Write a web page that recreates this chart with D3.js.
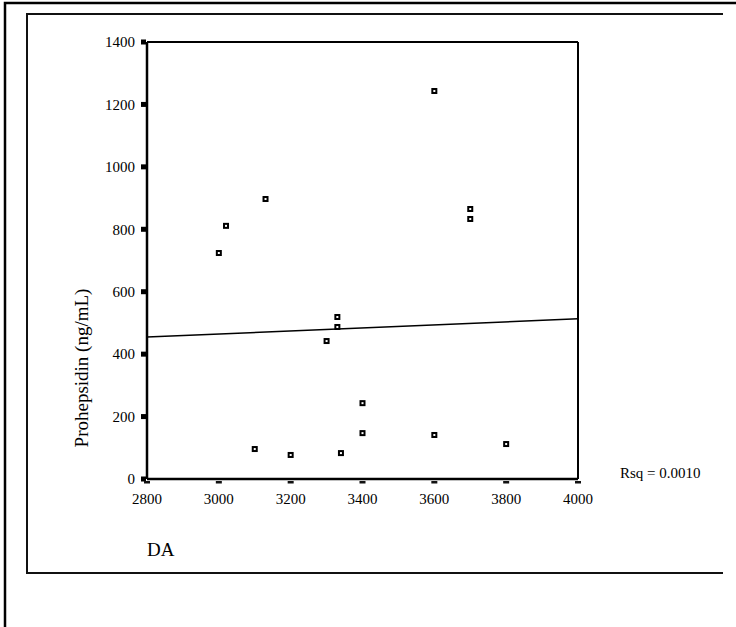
<!DOCTYPE html>
<html lang="en">
    <head>
        <meta charset="UTF-8" />
        <title>Prohepsidin vs DA</title>
        <style>
            body {
                margin: 0;
                background: #fff;
            }
            svg text {
                font-family: 'Liberation Serif', 'Times New Roman', serif;
                fill: #000;
            }
        </style>
    </head>
    <body>
        <svg width="736" height="627"></svg>
        <script src="https://d3js.org/d3.v7.min.js"></script>
        <script>
            // values
            const daValues = [3000, 3020, 3100, 3130, 3200, 3300, 3330, 3330, 3340, 3400, 3400, 3600, 3600, 3700, 3700, 3800];
            const prohepsidin = [724, 811, 96, 897, 77, 442, 519, 487, 83, 243, 147, 1243, 141, 865, 833, 112];
            const xTicks = [2800, 3000, 3200, 3400, 3600, 3800, 4000];
            const yTicks = [0, 200, 400, 600, 800, 1000, 1200, 1400];
            // fitted line end points
            const fitX = [2800, 4000];
            const fitY = [455, 513];

            const svg = d3.select('svg');

            // outer and inner frames
            svg.append('path').attr('d', 'M5,627V3H736').attr('fill', 'none').attr('stroke', '#000').attr('stroke-width', 2.5);
            svg.append('path').attr('d', 'M723,14H27V573H723').attr('fill', 'none').attr('stroke', '#111').attr('stroke-width', 2);

            const x = d3.scaleLinear().domain([2800, 4000]).range([147, 578]);
            const y = d3.scaleLinear().domain([0, 1400]).range([479, 42]);

            // plot box
            const g = svg.append('g');
            g.append('line').attr('x1', x(2800)).attr('x2', x(4000)).attr('y1', y(1400)).attr('y2', y(1400)).attr('stroke', '#000').attr('stroke-width', 1.8);
            g.append('line').attr('x1', x(4000)).attr('x2', x(4000)).attr('y1', y(1400)).attr('y2', y(0)).attr('stroke', '#000').attr('stroke-width', 2);
            g.append('line').attr('x1', x(2800)).attr('x2', x(4000)).attr('y1', y(0)).attr('y2', y(0)).attr('stroke', '#000').attr('stroke-width', 2.5);
            g.append('line').attr('x1', x(2800)).attr('x2', x(2800)).attr('y1', y(1400)).attr('y2', y(0)).attr('stroke', '#000').attr('stroke-width', 2.5);

            // y ticks: small squares
            g.selectAll('rect.ytick')
                .data(yTicks)
                .enter()
                .append('rect')
                .attr('class', 'ytick')
                .attr('x', x(2800) - 6)
                .attr('y', (d) => y(d) - 2.5)
                .attr('width', 5)
                .attr('height', 5)
                .attr('fill', '#000');

            g.selectAll('text.ylab')
                .data(yTicks)
                .enter()
                .append('text')
                .attr('class', 'ylab')
                .attr('x', 135)
                .attr('y', (d) => y(d))
                .attr('dy', '0.35em')
                .attr('text-anchor', 'end')
                .style('font-size', '15px')
                .text((d) => d);

            // x ticks: short dashes under the axis
            g.selectAll('rect.xtick')
                .data(xTicks)
                .enter()
                .append('rect')
                .attr('class', 'xtick')
                .attr('x', (d) => x(d) - 3)
                .attr('y', y(0) + 2)
                .attr('width', 6)
                .attr('height', 2.5)
                .attr('fill', '#111');

            g.selectAll('text.xlab')
                .data(xTicks)
                .enter()
                .append('text')
                .attr('class', 'xlab')
                .attr('x', (d) => x(d))
                .attr('y', 504)
                .attr('text-anchor', 'middle')
                .style('font-size', '15px')
                .text((d) => d);

            // fit line
            g.append('line')
                .attr('x1', x(fitX[0]))
                .attr('y1', y(fitY[0]))
                .attr('x2', x(fitX[1]))
                .attr('y2', y(fitY[1]))
                .attr('stroke', '#000')
                .attr('stroke-width', 1.5);

            // points: small hollow squares
            g.selectAll('rect.pt')
                .data(daValues.map((d, i) => [d, prohepsidin[i]]))
                .enter()
                .append('rect')
                .attr('class', 'pt')
                .attr('x', (d) => x(d[0]) - 2)
                .attr('y', (d) => y(d[1]) - 2)
                .attr('width', 4)
                .attr('height', 4)
                .attr('fill', '#fff')
                .attr('stroke', '#000')
                .attr('stroke-width', 2);

            // titles
            svg.append('text')
                .attr('transform', 'translate(88,368) rotate(-90)')
                .attr('text-anchor', 'middle')
                .style('font-size', '19px')
                .text('Prohepsidin (ng/mL)');

            svg.append('text').attr('x', 147).attr('y', 556).style('font-size', '19px').text('DA');

            svg.append('text').attr('x', 620).attr('y', 478).style('font-size', '15px').text('Rsq = 0.0010');
        </script>
    </body>
</html>
